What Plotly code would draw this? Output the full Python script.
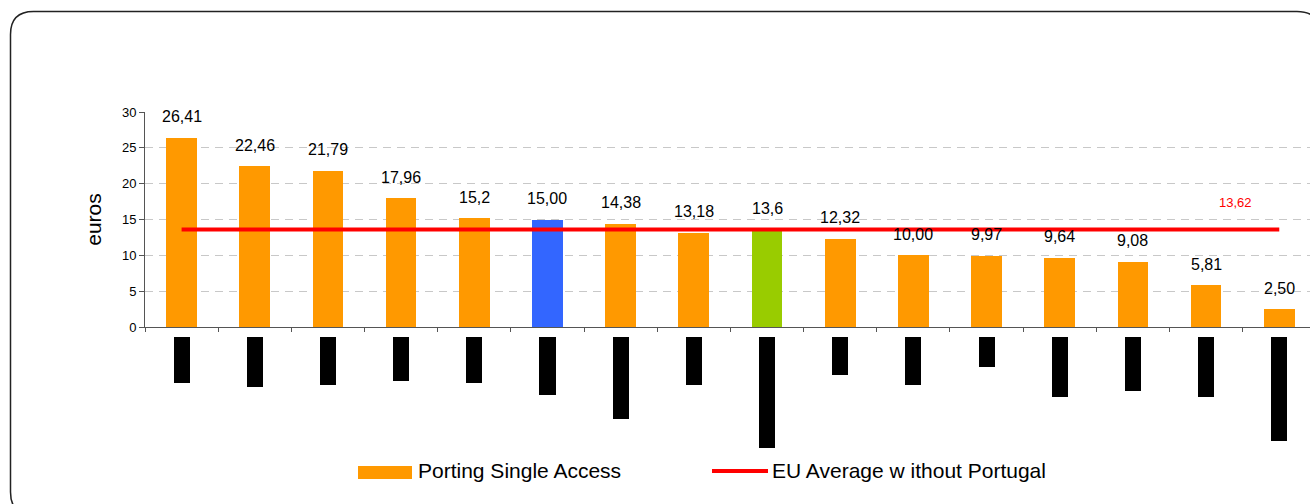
import plotly.graph_objects as go

# ---- data ----
slots = list(range(1, 17))
porting_single_access = [26.41, 22.46, 21.79, 17.96, 15.2, 15.00, 14.38, 13.18,
                         13.6, 12.32, 10.00, 9.97, 9.64, 9.08, 5.81, 2.50]
value_labels = ["26,41", "22,46", "21,79", "17,96", "15,2", "15,00", "14,38", "13,18",
                "13,6", "12,32", "10,00", "9,97", "9,64", "9,08", "5,81", "2,50"]
eu_average = 13.62
eu_average_label = "13,62"
# length of the (blacked-out) category label blocks under the axis, in px
label_block_len = [46, 50, 48, 44, 46, 58, 82, 48, 111, 38, 48, 30, 60, 54, 60, 104]
y_ticks = [0, 5, 10, 15, 20, 25, 30]

# ---- styling ----
ORANGE = "#FF9900"
BLUE = "#3366FF"
GREEN = "#99CC00"
RED = "#FF0000"
AXIS = "#555555"
FONT = "Liberation Sans, Arial, sans-serif"
special = {6: BLUE, 9: GREEN}
bar_colors = [special.get(s, ORANGE) for s in slots]

FIG_W, FIG_H = 1310, 504
L, R, T, B = 145, 0, 112, 55
PW, PH = FIG_W - L - R, FIG_H - T - B


def px_x(p):
    return (p - L) / PW


def px_y(p):
    return (FIG_H - B - p) / PH


fig = go.Figure()

fig.add_trace(go.Bar(
    x=slots, y=porting_single_access, marker=dict(color=bar_colors, line_width=0),
    width=0.42, name="Porting Single Access", showlegend=False, hoverinfo="y",
))

fig.add_trace(go.Scatter(
    x=[slots[0], slots[-1]], y=[eu_average, eu_average], mode="lines",
    line=dict(color=RED, width=4), name="EU Average without Portugal", showlegend=False,
))

# category label blocks below the axis
fig.add_trace(go.Bar(
    x=slots, y=label_block_len, marker=dict(color="#000000", line_width=0),
    width=0.22, xaxis="x2", yaxis="y2", showlegend=False, hoverinfo="skip",
))

annotations = []
for s, v, t in zip(slots, porting_single_access, value_labels):
    annotations.append(dict(
        x=s, y=v, text=t, showarrow=False, yanchor="middle", yshift=21,
        font=dict(family=FONT, size=16, color="#000000"),
    ))
annotations.append(dict(
    x=15.4, y=eu_average, text=eu_average_label, showarrow=False, yanchor="middle",
    yshift=27, font=dict(family=FONT, size=13, color=RED),
))

# legend drawn by hand
annotations.append(dict(
    xref="paper", yref="paper", x=px_x(416), y=px_y(470), xanchor="left", yanchor="middle",
    text="Porting Single Access", showarrow=False, font=dict(family=FONT, size=21, color="#000000"),
))
annotations.append(dict(
    xref="paper", yref="paper", x=px_x(770), y=px_y(470), xanchor="left", yanchor="middle",
    text="EU Average w ithout Portugal", showarrow=False,
    font=dict(family=FONT, size=21, color="#000000"),
))

shapes = [
    dict(type="rect", xref="paper", yref="paper", x0=px_x(358), x1=px_x(412),
         y0=px_y(479), y1=px_y(466), fillcolor=ORANGE, line_width=0),
    dict(type="line", xref="paper", yref="paper", x0=px_x(712), x1=px_x(768),
         y0=px_y(471), y1=px_y(471), line=dict(color=RED, width=4)),
]

# rounded outer frame
fx0, fy0, fx1, fy1, rad = 10.5, 11.5, 1320, 515, 23
pts = [
    ("M", fx0 + rad, fy0), ("L", fx1 - rad, fy0), ("Q", fx1, fy0, fx1, fy0 + rad),
    ("L", fx1, fy1 - rad), ("Q", fx1, fy1, fx1 - rad, fy1), ("L", fx0 + rad, fy1),
    ("Q", fx0, fy1, fx0, fy1 - rad), ("L", fx0, fy0 + rad), ("Q", fx0, fy0, fx0 + rad, fy0),
]
path = ""
for cmd in pts:
    c = cmd[0]
    coords = cmd[1:]
    seg = []
    for i in range(0, len(coords), 2):
        seg.append(f"{px_x(coords[i]):.5f},{px_y(coords[i + 1]):.5f}")
    path += c + " ".join(seg) + " "
path += "Z"
shapes.append(dict(type="path", xref="paper", yref="paper", path=path,
                   line=dict(color="#222222", width=1.5), fillcolor="rgba(0,0,0,0)"))

main_bottom = px_y(327)
blocks_top = px_y(337)

fig.update_layout(
    width=FIG_W, height=FIG_H,
    margin=dict(l=L, r=R, t=T, b=B, pad=0),
    paper_bgcolor="white", plot_bgcolor="white",
    font=dict(family=FONT, color="#000000"),
    showlegend=False,
    bargap=0,
    xaxis=dict(
        range=[0.5, 16.42], tickvals=[s - 0.5 for s in slots], showticklabels=False,
        ticks="outside", ticklen=4, tickcolor=AXIS, tickwidth=1,
        showline=True, linecolor=AXIS, linewidth=1, showgrid=False, zeroline=False,
        anchor="y", fixedrange=True,
    ),
    yaxis=dict(
        domain=[main_bottom, 1], range=[0, 30], tickvals=y_ticks,
        ticks="outside", ticklen=5, tickcolor=AXIS, tickwidth=1,
        showline=True, linecolor=AXIS, linewidth=1,
        showgrid=True, gridcolor="#C8C8C8", griddash="8px,6px", gridwidth=1,
        zeroline=False, tickfont=dict(family=FONT, size=13, color="#000000"),
        title=dict(text="euros", font=dict(family=FONT, size=21, color="#000000"), standoff=14),
        anchor="x", fixedrange=True,
    ),
    xaxis2=dict(
        range=[0.5, 16.42], visible=False, anchor="y2", fixedrange=True,
    ),
    yaxis2=dict(
        domain=[0, blocks_top], range=[112, 0], visible=False, anchor="x2", fixedrange=True,
    ),
    annotations=annotations,
    shapes=shapes,
)

fig.write_html("out.html")
